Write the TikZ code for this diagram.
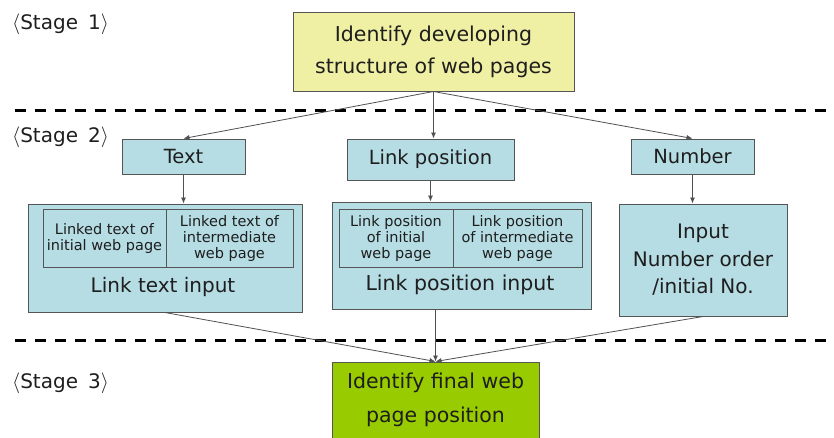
\documentclass[tikz,border=0pt]{standalone}
\usepackage{fontspec}
\setmainfont{DejaVu Sans}
\usetikzlibrary{arrows.meta}
\definecolor{boxblue}{HTML}{B6DCE4}
\definecolor{boxyellow}{HTML}{F0F0A4}
\definecolor{boxgreen}{HTML}{99CC00}
\definecolor{boxline}{HTML}{555555}
\definecolor{linkgray}{HTML}{505050}
\definecolor{inktext}{HTML}{1E1E1E}

\begin{document}
\begin{tikzpicture}
  [x=1pt, y=-1pt, >={Latex[length=6pt, width=5pt]}, text=inktext,
   stagelbl/.style={anchor=west, inner sep=0pt, font=\fontsize{20}{22}\selectfont},
   box/.style={draw=boxline, line width=1pt, fill=boxblue, inner sep=0pt,
     align=center, font=\fontsize{19.5}{27.5}\selectfont},
   cell/.style={box, font=\fontsize{14.5}{16}\selectfont},
   link/.style={->, draw=linkgray, line width=0.8pt},
   stageline/.style={line width=3pt, dash pattern=on 11pt off 9pt}]
  \useasboundingbox (0,0) rectangle (834,437);
  \clip (0,0) rectangle (834,437);

  % stage separators and labels
  \foreach \y in {110, 340}
    \draw [stageline] (15,\y) -- (834,\y);
  \node (st1) at (12,24) [stagelbl] {$\langle$Stage\hspace{0.5em}1$\rangle$};
  \node (st2) at (12,137) [stagelbl] {$\langle$Stage\hspace{0.5em}2$\rangle$};
  \node (st3) at (12,383) [stagelbl] {$\langle$Stage\hspace{0.5em}3$\rangle$};

  % stage 1
  \node (ident) at (433.5,51.5) [box, fill=boxyellow, minimum width=281pt,
    minimum height=79pt, font=\fontsize{20.5}{32}\selectfont]
    {Identify developing\\structure of web pages};

  % stage 2
  \node (text) at (183.5,156.5) [box, minimum width=123pt, minimum height=35pt] {Text};
  \node (linkpos) at (430.5,159.5) [box, minimum width=167pt, minimum height=41pt] {Link position};
  \node (number) at (692.5,156.5) [box, minimum width=123pt, minimum height=35pt] {Number};

  \node (textin) at (165,258) [box, minimum width=274pt, minimum height=108pt] {};
  \node (textcell1) at (104.5,238) [cell, minimum width=123pt, minimum height=58pt]
    {Linked text of\\initial web page};
  \node (textcell2) at (229.5,238) [cell, minimum width=127pt, minimum height=58pt]
    {Linked text of\\intermediate\\web page};
  \node (textlbl) at (163,287) [inner sep=0pt, font=\fontsize{20}{22}\selectfont] {Link text input};

  \node (posin) at (461.5,255.5) [box, minimum width=259pt, minimum height=107pt] {};
  \node (poscell1) at (396,238) [cell, minimum width=114pt, minimum height=58pt]
    {Link position\\of initial\\web page};
  \node (poscell2) at (517.5,238) [cell, minimum width=129pt, minimum height=58pt]
    {Link position\\of intermediate\\web page};
  \node (poslbl) at (460,285) [inner sep=0pt, font=\fontsize{20.5}{22}\selectfont] {Link position input};

  \node (numin) at (703,260) [box, minimum width=168pt, minimum height=112pt,
    font=\fontsize{20}{27.5}\selectfont]
    {Input\\Number order\\/initial No.};

  % stage 3
  \node (final) at (435.5,400) [box, fill=boxgreen, minimum width=207pt,
    minimum height=76pt, font=\fontsize{20.5}{34}\selectfont]
    {Identify final web\\page position};

  \draw [link] (ident.south) -- (text.north);
  \draw [link] (ident.south) -- (ident.south |- linkpos.north);
  \draw [link] (ident.south) -- (number.north);
  \draw [link] (text.south) -- (text.south |- textin.north);
  \draw [link] (linkpos.south) -- (linkpos.south |- posin.north);
  \draw [link] (number.south) -- (number.south |- numin.north);
  \draw [link] (textin.south) -- (final.north);
  \draw [link] (final.north |- posin.south) -- (final.north);
  \draw [link] (numin.south) -- (final.north);
\end{tikzpicture}
\end{document}
